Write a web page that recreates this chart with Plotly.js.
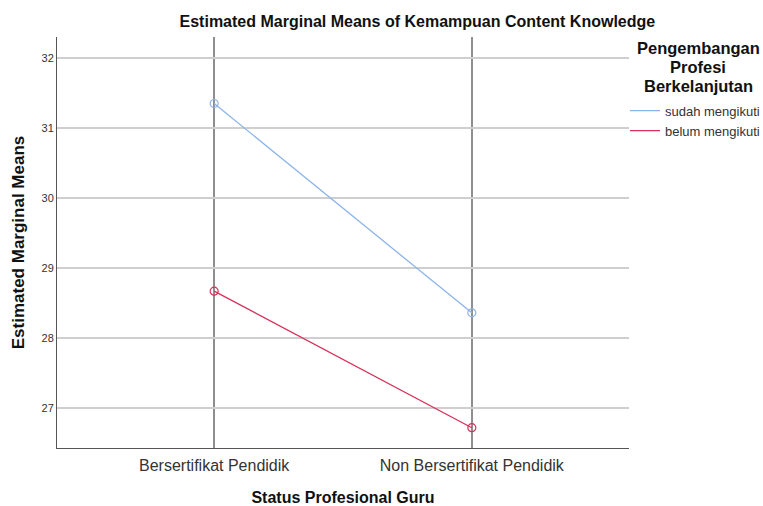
<!DOCTYPE html>
<html><head><meta charset="utf-8">
<script src="https://cdn.plot.ly/plotly-3.0.1.min.js"></script>
<style>html,body{margin:0;padding:0;background:#fff}</style>
</head><body>
<div id="chart" style="width:763px;height:506px"></div>
<script>
const categories = ["Bersertifikat Pendidik", "Non Bersertifikat Pendidik"];
const sudahValues = [31.35, 28.36];
const belumValues = [28.67, 26.72];
const seriesNames = ["sudah mengikuti", "belum mengikuti"];
const legendTitleLines = ["Pengembangan", "Profesi", "Berkelanjutan"];
const yTicks = [27, 28, 29, 30, 31, 32];

const font = "Liberation Sans, Arial, sans-serif";
const colors = ["#8db4e8", "#d6315a"];
const series = [sudahValues, belumValues];
const traces = [];
series.forEach((vals, i) => {
  traces.push({x: categories, y: vals, name: seriesNames[i], type: "scatter", mode: "lines",
    line: {color: colors[i], width: 1.3}});
});
series.forEach((vals, i) => {
  traces.push({x: categories, y: vals, name: seriesNames[i], type: "scatter", mode: "markers",
    showlegend: false,
    marker: {symbol: "circle-open", size: 8, color: colors[i], line: {width: 1.2}}});
});
const titleY = [0.9732, 0.927, 0.8808];
const annotations = legendTitleLines.map((t, i) => ({
  text: "<b>" + t + "</b>", xref: "paper", yref: "paper", x: 1.121, y: titleY[i],
  xanchor: "center", yanchor: "middle", showarrow: false,
  font: {size: 16.5, color: "#111", family: font}}));
const layout = {
  width: 763, height: 506,
  margin: {l: 57, r: 134, t: 37, b: 58, autoexpand: false},
  paper_bgcolor: "#fff", plot_bgcolor: "#fff",
  font: {family: font, color: "#222"},
  title: {text: "<b>Estimated Marginal Means of Kemampuan Content Knowledge</b>",
          font: {size: 16, family: font, color: "#111"}, xref: "container", x: 0.547, xanchor: "center",
          yref: "container", y: 0.958, yanchor: "middle"},
  xaxis: {type: "category", range: [-0.61, 1.61], showgrid: true, gridcolor: "#8f8f8f", gridwidth: 1.6,
          showline: true, linecolor: "#555", linewidth: 1, ticks: "", zeroline: false,
          ticklabelstandoff: 3,
          tickfont: {size: 16, color: "#333", family: font},
          title: {text: "<b>Status Profesional Guru</b>", font: {size: 16, color: "#111", family: font}, standoff: 20}},
  yaxis: {range: [26.43, 32.3], tickvals: yTicks, showgrid: true, gridcolor: "#cfcfcf", gridwidth: 1.6,
          showline: true, linecolor: "#555", linewidth: 1, ticks: "", zeroline: false,
          tickfont: {size: 11, color: "#333", family: font},
          title: {text: "<b>Estimated Marginal Means</b>", font: {size: 17, color: "#111", family: font}, standoff: 12}},
  showlegend: true,
  legend: {x: 0.993, xanchor: "left", y: 0.857, yanchor: "top", bgcolor: "rgba(0,0,0,0)",
           font: {size: 13, color: "#333", family: font}, tracegroupgap: 0, itemwidth: 30},
  annotations: annotations
};
Plotly.newPlot("chart", traces, layout, {displayModeBar: false, staticPlot: true});
</script>
</body></html>
